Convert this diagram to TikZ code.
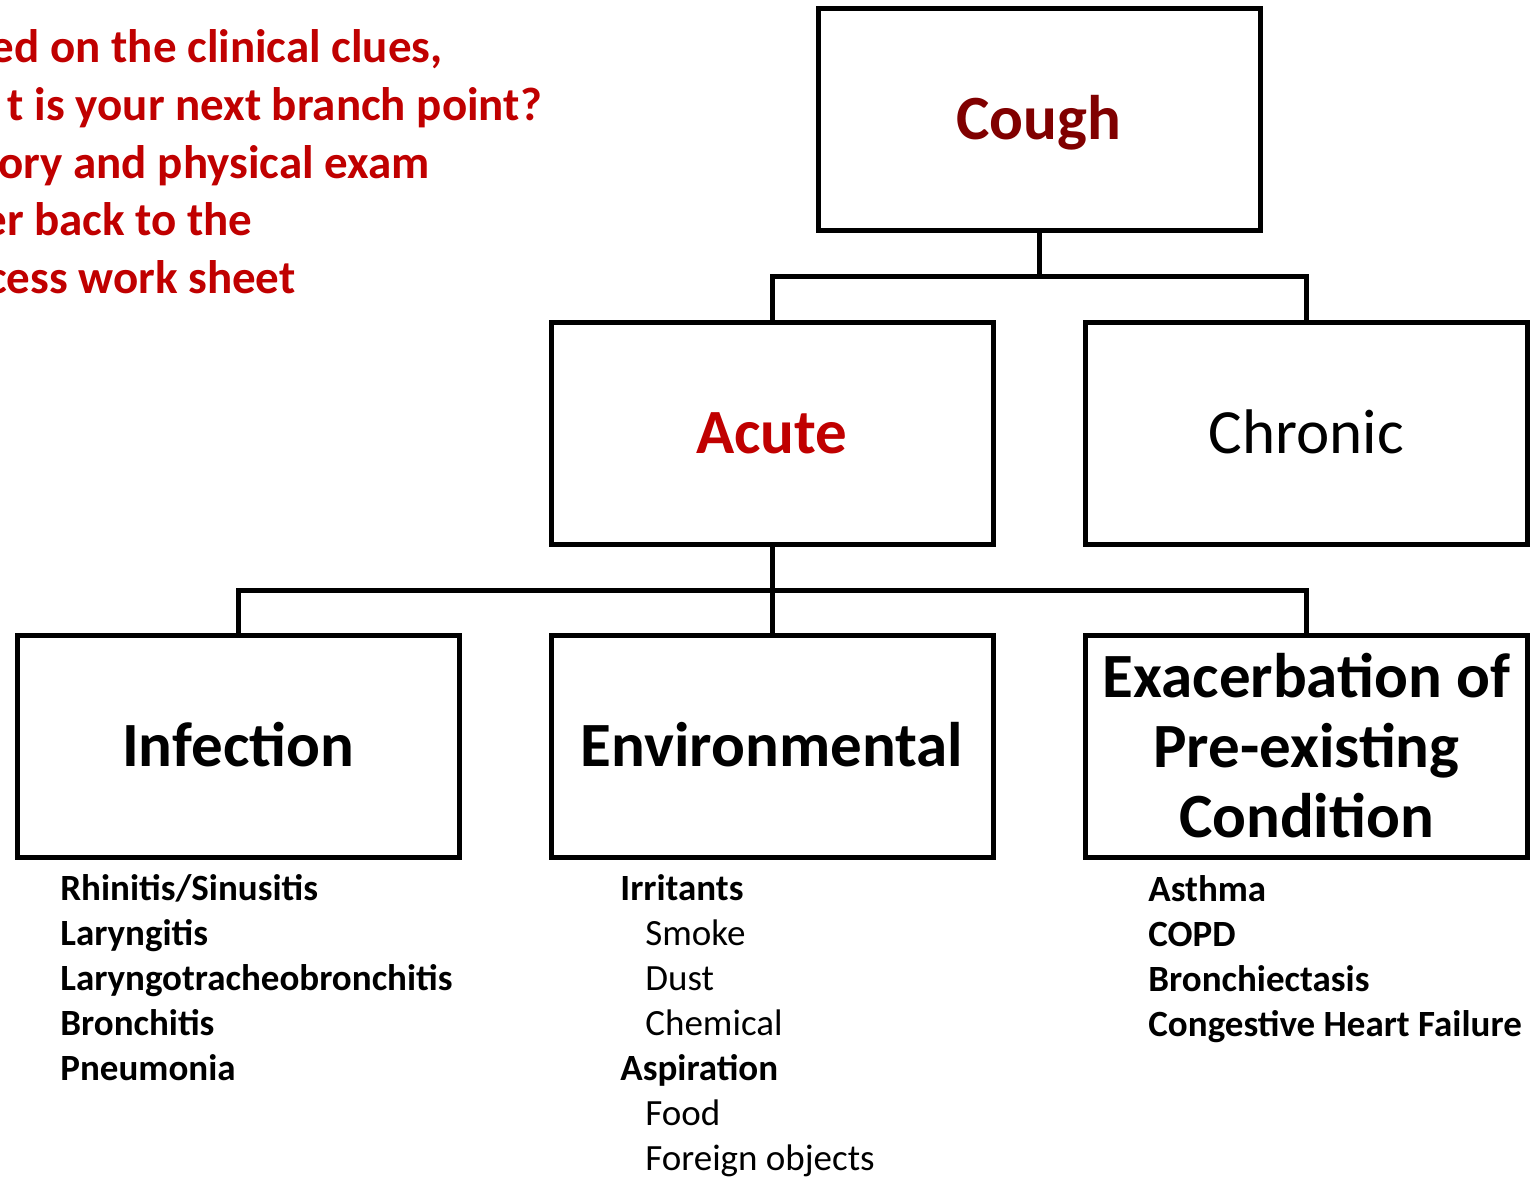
\documentclass[tikz,border=0pt]{standalone}
\usepackage{fontspec}
\setmainfont{Carlito}
\definecolor{maroonc}{HTML}{800000}
\definecolor{redc}{HTML}{C00000}
\tikzset{
  box/.style={draw=black, line width=2.5pt, rectangle, minimum width=221pt, minimum height=111pt, inner sep=0pt, text height=20.3pt, text depth=0pt},
  big/.style={font=\fontsize{31.5}{35}\selectfont},
  conn/.style={draw=black, line width=2.5pt},
  listtxt/.style={inner sep=0pt, anchor=base west, font=\fontsize{18.5}{22.5}\selectfont},
  toptxt/.style={inner sep=0pt, anchor=base east, text=redc, font=\bfseries\fontsize{23.5}{28.75}\selectfont}
}
\begin{document}
\begin{tikzpicture}[x=0.5pt,y=-0.5pt]
\useasboundingbox (0,0) rectangle (1531,1177);
% top-left prompt (cropped)
\node[toptxt] (t1) at (443,63) {ed on the clinical clues,};
\node[toptxt] (t2) at (542,120.5) {t is your next branch point?};
\node[toptxt] (t3) at (430,178) {ory and physical exam};
\node[toptxt] (t4) at (253,235.5) {er back to the};
\node[toptxt] (t5) at (296,293) {cess work sheet};
% boxes
\node[box, font=\bfseries\fontsize{31.5}{35}\selectfont, text=maroonc] (cough) at (1039,119.5) {Cough};
\node[box, font=\bfseries\fontsize{31.5}{35}\selectfont, text=redc] (acute) at (772,433) {Acute};
\node[box, big] (chronic) at (1306.5,433) {Chronic};
\node[box, font=\bfseries\fontsize{31.5}{35}\selectfont] (infection) at (238,746.5) {Infection};
\node[box, font=\bfseries\fontsize{31.5}{35}\selectfont] (environ) at (772,746.5) {Environmental};
\node[box, font=\bfseries\fontsize{31.5}{35}\selectfont, text height=90.5pt] (exac) at (1306.5,746.5) {\begin{tabular}[b]{@{}c@{}}Exacerbation of\\Pre-existing\\Condition\end{tabular}};
% connectors
\coordinate (j1) at (1039,276);
\coordinate (j2) at (772,590);
\draw[conn] (cough.south) -- (j1);
\draw[conn] (acute.north) |- (j1) -| (chronic.north);
\draw[conn] (acute.south) -- (environ.north);
\draw[conn] (infection.north) |- (j2) -| (exac.north);
% lists
\node[listtxt, font=\bfseries\fontsize{18.5}{22.5}\selectfont] (list1) at (60,900) {\begin{tabular}[t]{@{}l@{}}Rhinitis/Sinusitis\\Laryngitis\\Laryngotracheobronchitis\\Bronchitis\\Pneumonia\end{tabular}};
\node[listtxt] (list2) at (620,900) {\begin{tabular}[t]{@{}l@{}}\textbf{Irritants}\\\hspace{12.5pt}Smoke\\\hspace{12.5pt}Dust\\\hspace{12.5pt}Chemical\\\textbf{Aspiration}\\\hspace{12.5pt}Food\\\hspace{12.5pt}Foreign objects\end{tabular}};
\node[listtxt, font=\bfseries\fontsize{18.5}{22.5}\selectfont] (list3) at (1148,901) {\begin{tabular}[t]{@{}l@{}}Asthma\\COPD\\Bronchiectasis\\Congestive Heart Failure\end{tabular}};
\end{tikzpicture}
\end{document}
